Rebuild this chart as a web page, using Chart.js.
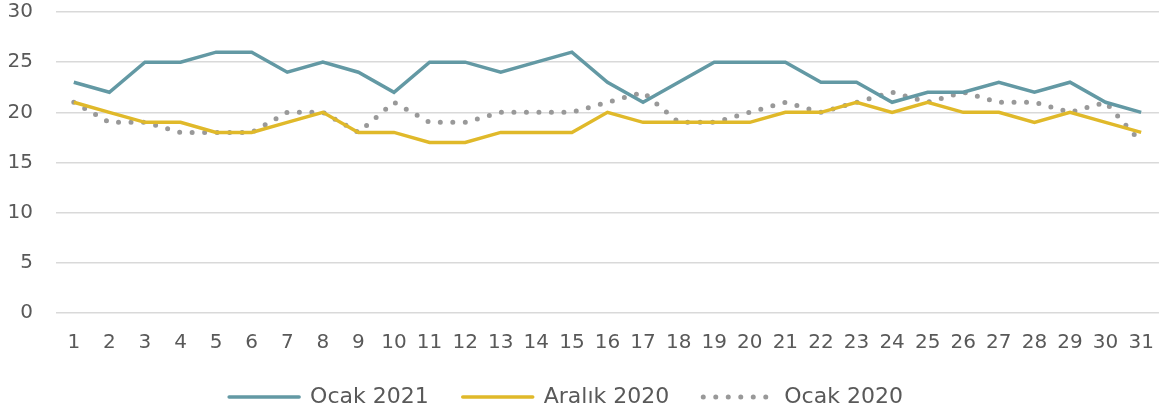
<!DOCTYPE html>
<html>
<head>
<meta charset="utf-8">
<script src="https://cdn.jsdelivr.net/npm/chart.js@4"></script>
<style>
  html, body { margin: 0; padding: 0; background: #fff; }
  #wrap { width: 1172px; height: 414px; }
</style>
</head>
<body>
<div id="wrap"><canvas id="canvas" width="1172" height="414"></canvas></div>
<script>
var days = [];
for (var d = 1; d <= 31; d++) days.push(String(d));

var ocak2021 = [23,22,25,25,26,26,24,25,24,22,25,25,24,25,26,23,21,23,25,25,25,23,23,21,22,22,23,22,23,21,20];
var aralik2020 = [21,20,19,19,18,18,19,20,18,18,17,17,18,18,18,20,19,19,19,19,20,20,21,20,21,20,20,19,20,19,18];
var ocak2020 = [21,19,19,18,18,18,20,20,18,21,19,19,20,20,20,21,22,19,19,20,21,20,21,22,21,22,21,21,20,21,17];

var yTicks = [0, 5, 10, 15, 20, 25, 30];

var textColor = "#595959";
var fontFamily = "'DejaVu Sans', sans-serif";

const ctx = document.getElementById('canvas').getContext('2d');

const myChart = new Chart(ctx, {
  type: 'line',
  data: {
	labels: days,
	datasets: [{
	  label: 'Ocak 2021',
	  data: ocak2021,
	  borderColor: "#6399A4",
	  backgroundColor: "#6399A4",
	  borderWidth: 3.5,
	  pointRadius: 0,
	  tension: 0
	}, {
	  label: 'Aralık 2020',
	  data: aralik2020,
	  borderColor: "#E0B92A",
	  backgroundColor: "#E0B92A",
	  borderWidth: 3.5,
	  pointRadius: 0,
	  tension: 0
	}, {
	  label: 'Ocak 2020',
	  data: ocak2020,
	  borderColor: "#999999",
	  backgroundColor: "#999999",
	  borderWidth: 5,
	  borderDash: [0, 12.5],
	  borderCapStyle: 'round',
	  pointRadius: 0,
	  tension: 0
	}]
  },
  options: {
	responsive: false,
	animation: false,
	layout: {
	  // negative left so the legend centres a bit left of the canvas middle
	  padding: { top: 12, right: 7, left: -33, bottom: 0 }
	},
	scales: {
	  x: {
		offset: true,
		grid: { display: false, drawTicks: false },
		border: { display: false },
		afterFit: function(scale) {
		  scale.height = 39;
		},
		ticks: {
		  color: textColor,
		  font: { family: fontFamily, size: 20 },
		  padding: 18,
		  maxRotation: 0,
		  autoSkip: false
		}
	  },
	  y: {
		min: 0,
		max: 30,
		afterBuildTicks: function(scale) {
		  scale.ticks = yTicks.map(function(v){ return { value: v }; });
		},
		afterFit: function(scale) {
		  scale.width = 89;
		  scale.paddingTop = 0;
		  scale.paddingBottom = 0;
		},
		grid: {
		  color: "#D9D9D9",
		  lineWidth: 1.5,
		  drawTicks: false
		},
		border: { display: false },
		ticks: {
		  color: textColor,
		  font: { family: fontFamily, size: 20 },
		  padding: 23
		}
	  }
	},
	plugins: {
	  legend: {
		position: 'bottom',
		maxHeight: 62,
		labels: {
		  color: textColor,
		  font: { family: fontFamily, size: 22 },
		  usePointStyle: true,
		  pointStyleWidth: 70,
		  boxHeight: 22,
		  padding: 34,
		  generateLabels: function(chart) {
			return chart.data.datasets.map(function(ds, i) {
			  return {
				text: ds.label,
				fillStyle: ds.borderColor,
				strokeStyle: ds.borderColor,
				lineWidth: ds.borderWidth,
				lineDash: ds.borderDash || [],
				lineCap: ds.borderCapStyle || 'round',
				pointStyle: 'line',
				fontColor: textColor,
				datasetIndex: i
			  };
			});
		  }
		}
	  },
	  tooltip: { enabled: false }
	}
  }
});
</script>
</body>
</html>
